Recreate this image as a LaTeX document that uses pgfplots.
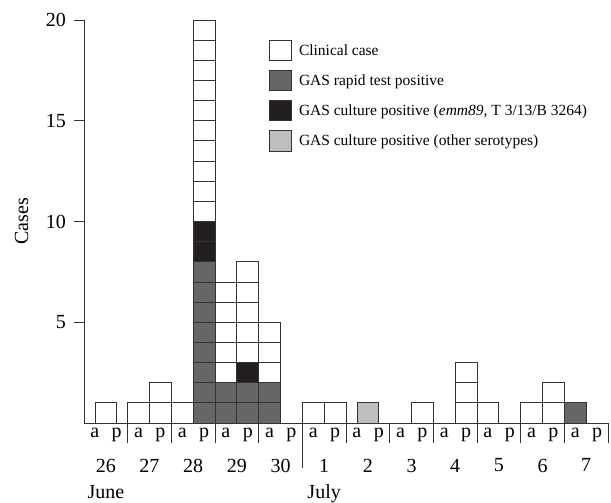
\documentclass[border=0pt]{standalone}
\usepackage{fontspec}
\setmainfont{Liberation Serif}
\usepackage{pgfplots}
\usepackage{pgfplotstable}
\pgfplotsset{compat=1.18}
\definecolor{edge}{HTML}{333333}
\definecolor{dkgray}{HTML}{666666}
\definecolor{cblack}{HTML}{231F20}
\definecolor{ltgray}{HTML}{BEBEBE}
\pgfdeclareplotmark{cell}{%
  \pgfpathrectangle{\pgfpoint{-10.915bp}{-10.075bp}}{\pgfpoint{21.83bp}{20.15bp}}%
  \pgfusepathqfillstroke}
% x = centre of the half-day slot (0 = 26 June a.m.), y = centre of the case's cell
\pgfplotstableread{
x y
1.0 0.5
2.5 0.5
3.5 0.5
3.5 1.5
4.5 0.5
5.5 10.5
5.5 11.5
5.5 12.5
5.5 13.5
5.5 14.5
5.5 15.5
5.5 16.5
5.5 17.5
5.5 18.5
5.5 19.5
6.5 2.5
6.5 3.5
6.5 4.5
6.5 5.5
6.5 6.5
7.5 3.5
7.5 4.5
7.5 5.5
7.5 6.5
7.5 7.5
8.5 2.5
8.5 3.5
8.5 4.5
10.5 0.5
11.5 0.5
15.5 0.5
17.5 0.5
17.5 1.5
17.5 2.5
18.5 0.5
20.5 0.5
21.5 0.5
21.5 1.5
}\clinical
\pgfplotstableread{
x y
5.5 0.5
5.5 1.5
5.5 2.5
5.5 3.5
5.5 4.5
5.5 5.5
5.5 6.5
5.5 7.5
6.5 0.5
6.5 1.5
7.5 0.5
7.5 1.5
8.5 0.5
8.5 1.5
22.5 0.5
}\rapid
\pgfplotstableread{
x y
5.5 8.5
5.5 9.5
7.5 2.5
}\cultureemm
\pgfplotstableread{
x y
13.0 0.5
}\cultureother
\begin{document}
\begin{tikzpicture}
% day separators below the time axis
\begin{axis}[
  scale only axis, width=524bp, height=403bp,
  at={(0,0)}, anchor=south west,
  xmin=0, xmax=24, ymin=0, ymax=20,
  axis x line*=bottom, hide y axis,
  axis line style={-, draw=edge, line width=0.8bp},
  tick align=outside, major tick length=20bp,
  tick style={draw=edge, line width=0.8bp},
  xtick={2,4,6,8,10,12,14,16,18,20,22,24},
  xticklabels={},
]
\addplot[draw=none] coordinates {(0,0)};
\end{axis}
\begin{axis}[
  scale only axis, width=524bp, height=403bp,
  at={(0,0)}, anchor=south west,
  xmin=0, xmax=24, ymin=0, ymax=20,
  axis x line*=bottom, axis y line*=left,
  axis line style={-, draw=edge, line width=0.8bp},
  tick align=outside,
  major tick length=10bp,
  tick style={draw=edge, line width=0.8bp},
  ytick={5,10,15,20},
  xtick={0.5,1.5,...,23.5},
  xticklabels={a,p,a,p,a,p,a,p,a,p,a,p,a,p,a,p,a,p,a,p,a,p,a,p},
  xtick style={draw=none},
  extra x ticks={1,3,5,7,9,11,13,15,17,19,21,23},
  extra x tick labels={{26\\[-4bp]June},27,28,29,30,{1\\[-4bp]July},2,3,4,5,6,7},
  extra x tick style={xticklabel style={anchor=north, inner sep=0pt, yshift=-21.7bp}},
  /pgf/number format/assume math mode=true,
  tick label style={font=\fontsize{20bp}{30bp}\selectfont},
  xticklabel style={anchor=base, align=center, yshift=-4bp},
  yticklabel style={anchor=east, inner sep=0pt, xshift=-8bp},
  ylabel={Cases},
  ylabel style={font=\fontsize{20bp}{24bp}\selectfont, at={(axis description cs:-0.1189,0.5)}, anchor=center},
  legend style={at={(rel axis cs:0.353,0.950)}, anchor=north west, draw=none, fill=none,
    font=\fontsize{15.5bp}{18bp}\selectfont, row sep=10bp, column sep=8bp, inner sep=0pt,
    nodes={inner sep=0pt}},
  legend cell align=left,
  legend image code/.code={\draw[#1] plot coordinates {(11bp,0bp)};},
  clip=false,
]
\addplot[only marks, mark=cell, draw=edge, fill=white, line width=0.8bp] table {\clinical};
\addlegendentry{Clinical case}
\addplot[only marks, mark=cell, draw=edge, fill=dkgray, line width=0.8bp] table {\rapid};
\addlegendentry{GAS rapid test positive}
\addplot[only marks, mark=cell, draw=edge, fill=cblack, line width=0.8bp] table {\cultureemm};
\addlegendentry{GAS culture positive (\textit{emm89}, T 3/13/B 3264)}
\addplot[only marks, mark=cell, draw=edge, fill=ltgray, line width=0.8bp] table {\cultureother};
\addlegendentry{GAS culture positive (other serotypes)}
\draw[edge, line width=0.8bp] (axis cs:10,0) -- ++(0,-45bp);
\end{axis}
\pgfresetboundingbox
\path (-84bp,-80bp) rectangle (527bp,423bp);
\end{tikzpicture}
\end{document}
